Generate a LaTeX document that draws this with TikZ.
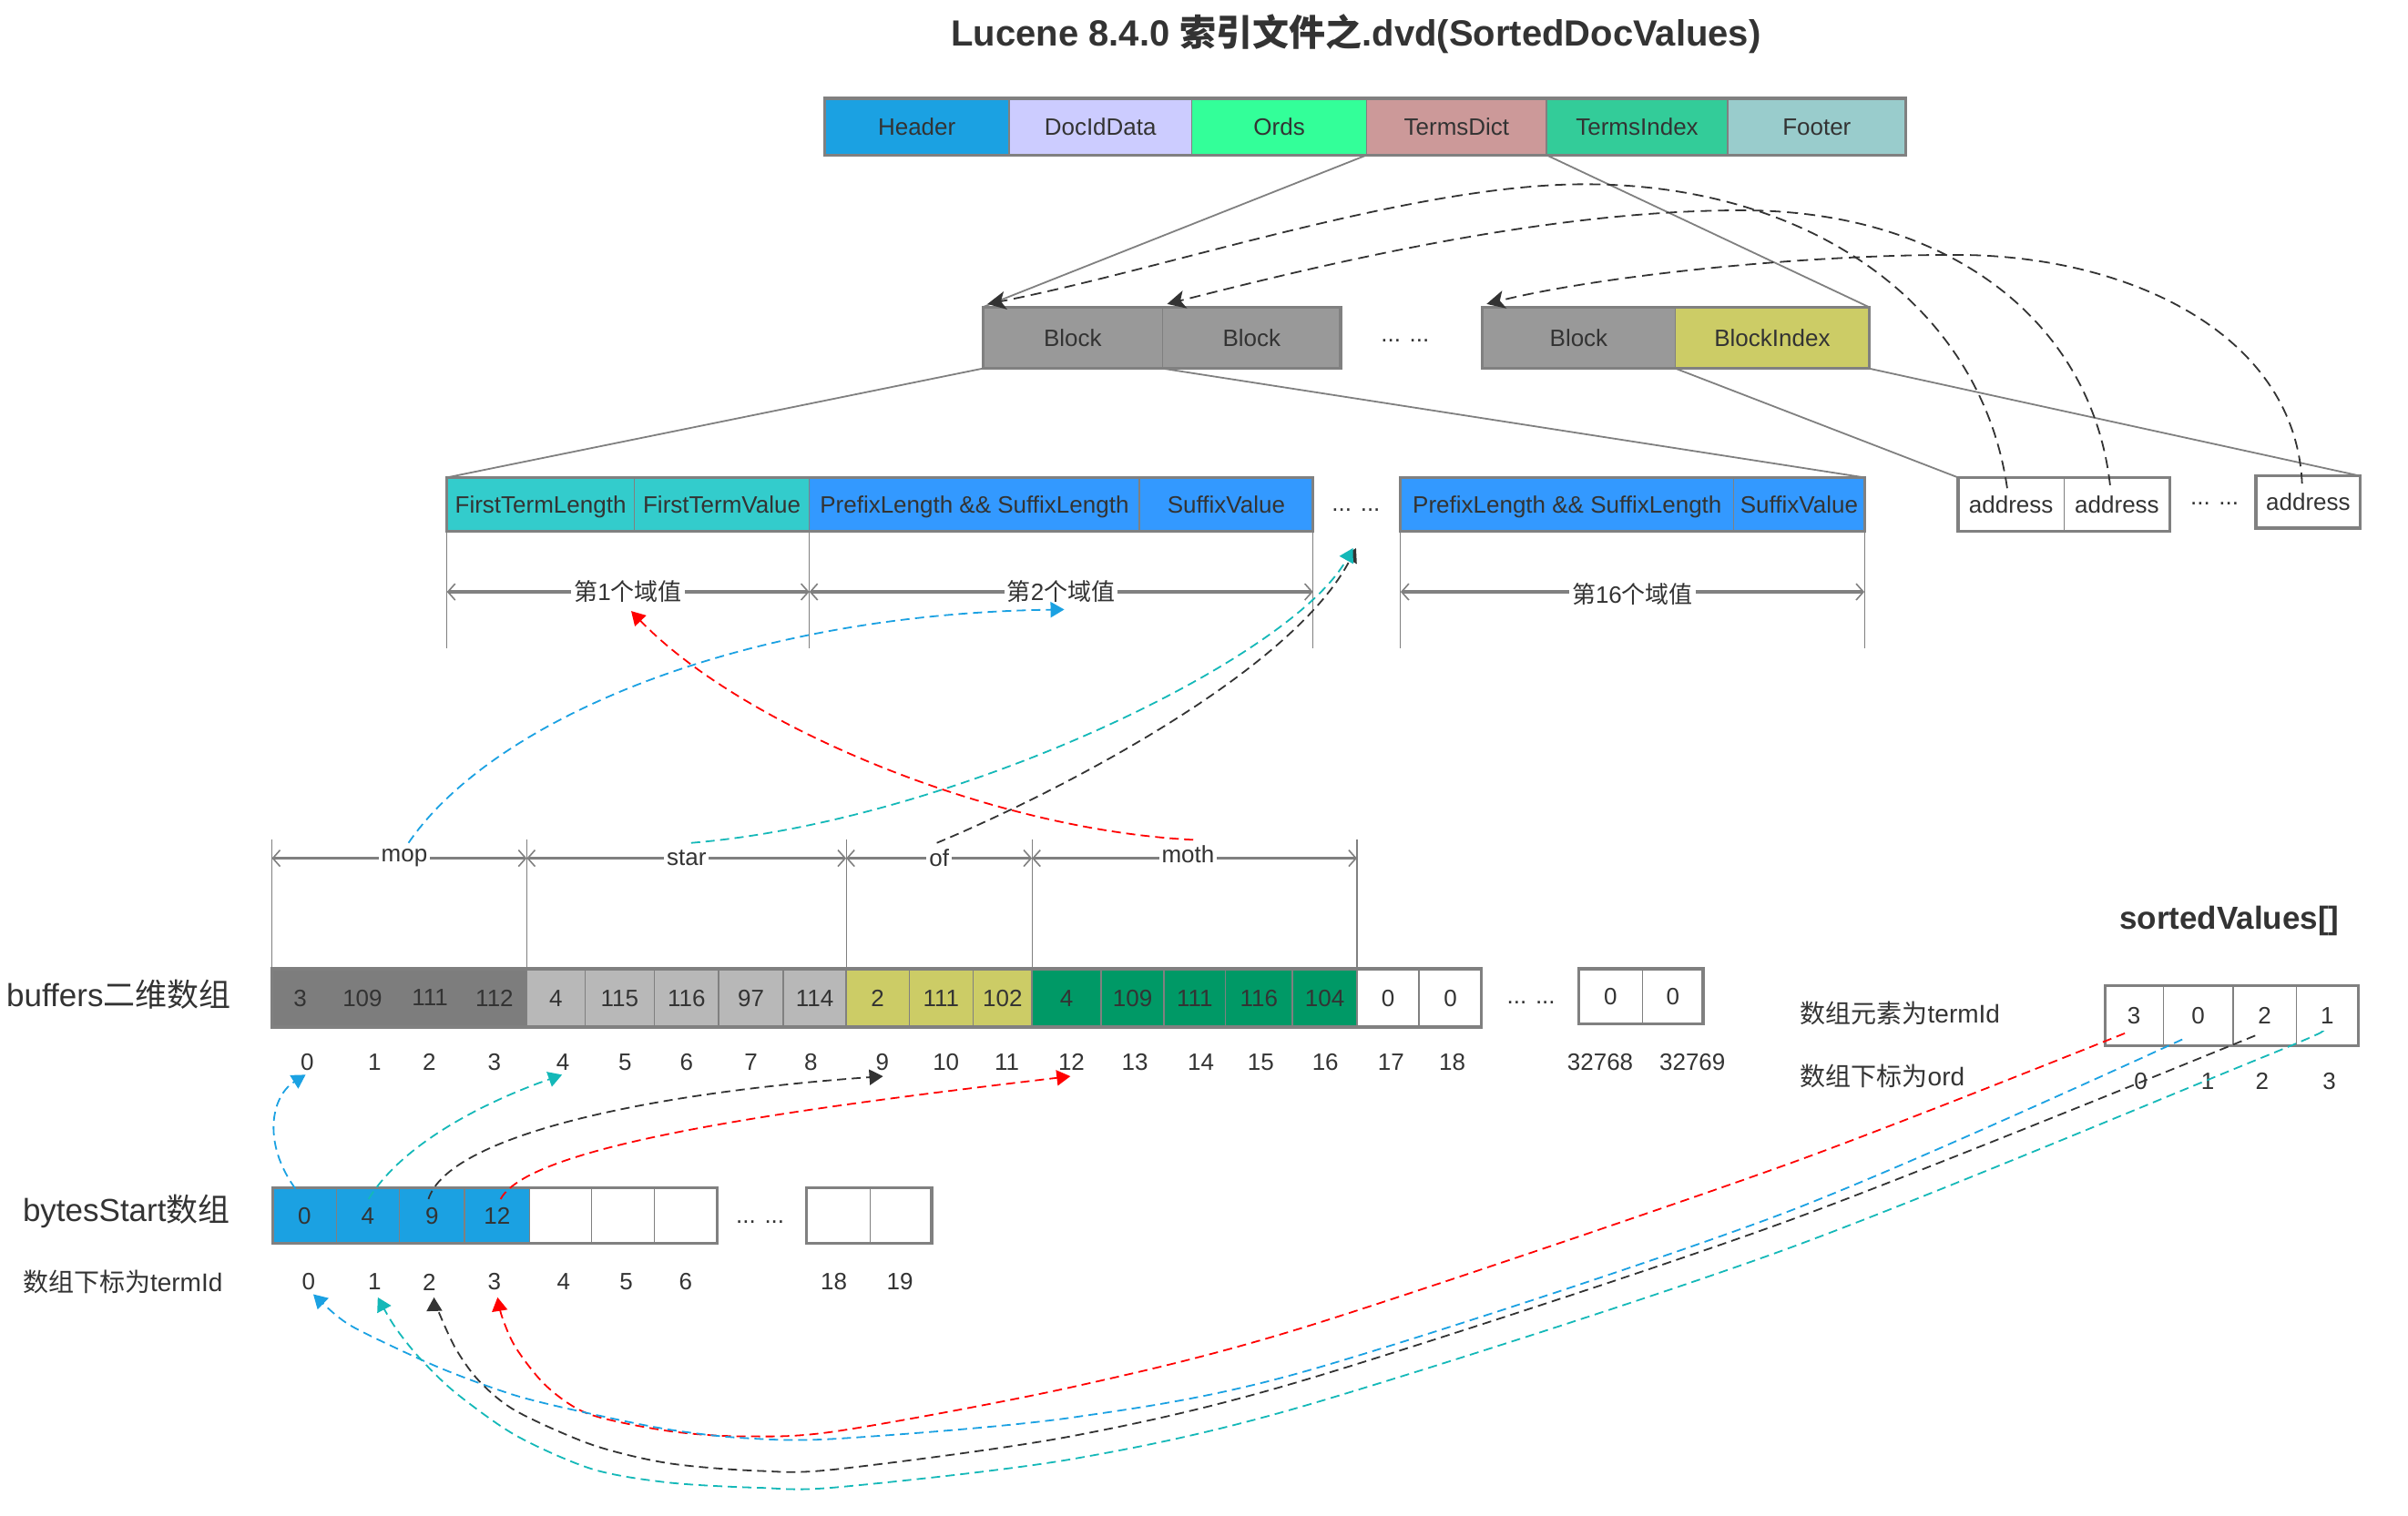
\documentclass[tikz,border=0pt]{standalone}
\usepackage{fontspec}
\setmainfont{Liberation Sans}
\newfontfamily\cjk{Noto Sans CJK SC}
\usetikzlibrary{arrows.meta}
\newcommand\zh[1]{{\cjk #1}}
\newcommand\fsn{\fontsize{13}{15}\selectfont}
\newcommand\fsm{\fontsize{14}{16}\selectfont}
\newcommand\fsb{\fontsize{17.5}{20}\selectfont}
\newcommand\fst{\fontsize{20}{23}\selectfont}
\definecolor{txt}{HTML}{333333}
\definecolor{bord}{HTML}{808080}
\definecolor{cHeader}{HTML}{1BA1E2}
\definecolor{cDocId}{HTML}{CCCCFF}
\definecolor{cOrds}{HTML}{33FF99}
\definecolor{cTDict}{HTML}{CC9999}
\definecolor{cTIdx}{HTML}{33CC99}
\definecolor{cFooter}{HTML}{99CCCC}
\definecolor{cBlock}{HTML}{999999}
\definecolor{cBlkIdx}{HTML}{CCCC66}
\definecolor{cFirst}{HTML}{33CCCC}
\definecolor{cPrefix}{HTML}{3399FF}
\definecolor{cMop}{HTML}{7D7D7D}
\definecolor{cStar}{HTML}{B8B8B8}
\definecolor{cOf}{HTML}{CCCC66}
\definecolor{cMoth}{HTML}{009966}
\definecolor{lBlue}{HTML}{1BA1E2}
\definecolor{lCyan}{HTML}{14B8B8}
\definecolor{lRed}{HTML}{FF0000}
\definecolor{lDark}{HTML}{333333}
\newcommand\cellbox[7]{%
  \node[cellsty, fill=#6, minimum width={(#3-#2)*0.8431pt}, minimum height={(#5-#4)*0.8431pt}] (#1) at ({(#2+#3)/2},{(#4+#5)/2}) {#7};}
\begin{document}
\begin{tikzpicture}[x=0.8431pt,y=-0.8431pt,
  cellsty/.style={draw=bord, line width=0.7pt, inner sep=0pt, outer sep=0pt, text=txt, font=\fsn, text height=9.3pt, text depth=0pt},
  frame/.style={draw=bord, line width=1.6pt},
  lbl/.style={text=txt, font=\fsn, inner sep=1pt},
  conn/.style={draw=bord, line width=0.9pt},
  ticksty/.style={draw=bord, line width=0.6pt},
  dimsty/.style={draw=bord, line width=1.6pt, {Straight Barb[length=4pt,width=9pt,line width=0.8pt]}-{Straight Barb[length=4pt,width=9pt,line width=0.8pt]}},
  dimlbl/.style={fill=white, text=txt, font=\fsn, inner sep=1.5pt},
  darc/.style={draw=lDark, line width=0.9pt, dash pattern=on 6pt off 3.5pt, -{Stealth[length=10pt,width=10pt,inset=2.5pt]}},
  cdash/.style={line width=0.9pt, dash pattern=on 5pt off 3pt, -{Triangle[length=7.5pt,width=8.5pt]}}]
\useasboundingbox (0,0) rectangle (1568,987);

% title
\node[text=txt, font=\fst\bfseries] (title) at (883,22) {Lucene 8.4.0 \zh{索引文件之}.dvd(SortedDocValues)};

% top bar
\cellbox{hdr}{537}{657}{64}{101}{cHeader}{Header}
\cellbox{did}{657}{776}{64}{101}{cDocId}{DocIdData}
\cellbox{ords}{776}{890}{64}{101}{cOrds}{Ords}
\cellbox{tdict}{890}{1007}{64}{101}{cTDict}{TermsDict}
\cellbox{tidx}{1007}{1125}{64}{101}{cTIdx}{TermsIndex}
\cellbox{ftr}{1125}{1241}{64}{101}{cFooter}{Footer}
\draw[frame] (hdr.north west) rectangle (ftr.south east);

% blocks
\cellbox{blkA}{640}{757}{200}{240}{cBlock}{Block}
\cellbox{blkB}{757}{873}{200}{240}{cBlock}{Block}
\node[lbl] (bdots) at (915,222) {... ...};
\cellbox{blkC}{965}{1091}{200}{240}{cBlock}{Block}
\cellbox{blkI}{1091}{1217}{200}{240}{cBlkIdx}{BlockIndex}
\draw[frame] (blkA.north west) rectangle (blkB.south east);
\draw[frame] (blkC.north west) rectangle (blkI.south east);

% fields
\cellbox{ftl}{291}{413}{311}{346}{cFirst}{FirstTermLength}
\cellbox{ftv}{413}{527}{311}{346}{cFirst}{FirstTermValue}
\cellbox{psA}{527}{742}{311}{346}{cPrefix}{PrefixLength \&\& SuffixLength}
\cellbox{svA}{742}{855}{311}{346}{cPrefix}{SuffixValue}
\node[lbl] (fdots) at (883,332) {... ...};
\cellbox{psP}{912}{1129}{311}{346}{cPrefix}{PrefixLength \&\& SuffixLength}
\cellbox{svP}{1129}{1214}{311}{346}{cPrefix}{SuffixValue}
\draw[frame] (ftl.north west) rectangle (svA.south east);
\draw[frame] (psP.north west) rectangle (svP.south east);

% addresses
\cellbox{adA}{1275}{1344}{311}{346}{white}{address}
\cellbox{adB}{1344}{1413}{311}{346}{white}{address}
\node[lbl] (adots) at (1442,328) {... ...};
\cellbox{adC}{1469}{1537}{310}{344}{white}{address}
\draw[frame] (adA.north west) rectangle (adB.south east);
\draw[frame] (adC.north west) rectangle (adC.south east);

% gray connectors
\draw[conn] (tdict.south west) -- (blkA.north west);
\draw[conn] (tdict.south east) -- (blkI.north east);
\draw[conn] (blkA.south west) -- (ftl.north west);
\draw[conn] (blkB.south west) -- (svP.north east);
\draw[conn] (blkI.south west) -- (adA.north west);
\draw[conn] (blkI.south east) -- (adC.north east);

% dashed arcs address -> block
\coordinate (aA) at (1307,318);
\coordinate (aB) at (1374,316);
\coordinate (aC) at (1499,315);
\draw[darc] (aA) .. controls (1290,200) and (1180,120) .. (1032,120) .. controls (920,120) and (760,175) .. ([shift={(3,-2)}]blkA.north west);
\draw[darc] (aB) .. controls (1362,210) and (1270,137) .. (1134,137) .. controls (1010,137) and (870,170) .. ([shift={(3,-2)}]blkB.north west);
\draw[darc] (aC) .. controls (1495,220) and (1390,166) .. (1273,166) .. controls (1170,166) and (1040,180) .. ([shift={(3,-2)}]blkC.north west);

% field dimensions
\foreach \x in {291,527,855,912,1214} \draw[ticksty] (\x,347) -- (\x,422);
\draw[dimsty] (291,385.5) -- node[dimlbl] (d1) {\zh{第}1\zh{个域值}} (527,385.5);
\draw[dimsty] (527,385.5) -- node[dimlbl] (d2) {\zh{第}2\zh{个域值}} (855,385.5);
\draw[dimsty] (912,385.5) -- node[dimlbl, yshift=-1.5pt] (d16) {\zh{第}16\zh{个域值}} (1214,385.5);

% term dimensions
\foreach \x in {177,343,551,672,883.6} \draw[ticksty] (\x,546.6) -- (\x,631);
\draw[dimsty] (177,559) -- node[dimlbl, pos=0.52] (tmop) {mop} (343,559);
\draw[dimsty] (343,559) -- node[dimlbl] (tstar) {star} (551,559);
\draw[dimsty] (551,559) -- node[dimlbl] (tof) {of} (672,559);
\draw[dimsty] (672,559) -- node[dimlbl, pos=0.48, yshift=2pt] (tmoth) {moth} (883.6,559);

% buffers
\node[text=txt, font=\fsb, anchor=west, inner sep=0pt] (lbuf) at (4,648) {buffers\zh{二维数组}};
\cellbox{mop}{177}{343}{631}{669}{cMop}{}
\foreach \n/\x/\v in {0/195.5/3,1/236/109,2/280/111,3/322/112}
  \node[lbl] (bv\n) at (\x,650) {\v};
\foreach \n/\a/\b/\v in {4/343/381/4,5/381/426/115,6/426/468/116,7/468/510/97,8/510/551/114}
  {\cellbox{bc\n}{\a}{\b}{631}{669}{cStar}{\v}}
\foreach \n/\a/\b/\v in {9/551/592/2,10/592/633.6/111,11/633.6/672/102}
  {\cellbox{bc\n}{\a}{\b}{631}{669}{cOf}{\v}}
\foreach \n/\a/\b/\v in {12/672/717/4,13/717/758/109,14/758/798/111,15/798/841.6/116,16/841.6/883.6/104}
  {\cellbox{bc\n}{\a}{\b}{631}{669}{cMoth}{\v}}
\cellbox{bc17}{883.6}{924}{631}{669}{white}{0}
\cellbox{bc18}{924}{964.8}{631}{669}{white}{0}
\draw[frame] (mop.north west) rectangle (bc18.south east);
\node[lbl] (bdots2) at (997,653) {... ...};
\cellbox{bx1}{1028}{1069.5}{631}{667}{white}{0}
\cellbox{bx2}{1069.5}{1109}{631}{667}{white}{0}
\draw[frame] (bx1.north west) rectangle (bx2.south east);
\foreach \n/\x in {0/200,1/244,2/279.5,3/322,4/366.6,5/407,6/447,7/489,8/528,9/574.6,10/616,11/655.7,12/697.7,13/739,14/782,15/821,16/863,17/905.8,18/945.6,32768/1042,32769/1102}
  \node[lbl] (ix\n) at (\x,692) {\n};

% bytesStart
\node[text=txt, font=\fsb, anchor=west, inner sep=0pt] (lbs) at (14.6,789) {bytesStart\zh{数组}};
\node[text=txt, font=\fsm, anchor=west, inner sep=0pt] (lbsi) at (14.6,835) {\zh{数组下标为}termId};
\foreach \n/\a/\b/\v in {0/177.7/219/0,1/219/260/4,2/260/302.5/9,3/302.5/345/12}
  {\cellbox{s\n}{\a}{\b}{773.6}{809.6}{cHeader}{\v}}
\foreach \n/\a/\b in {4/345/385,5/385/426,6/426/466.9}
  {\cellbox{s\n}{\a}{\b}{773.6}{809.6}{white}{}}
\draw[frame] (s0.north west) rectangle (s6.south east);
\node[lbl] (sdots) at (495,796) {... ...};
\cellbox{s18}{525}{566.7}{773.6}{809.6}{white}{}
\cellbox{s19}{566.7}{606.7}{773.6}{809.6}{white}{}
\draw[frame] (s18.north west) rectangle (s19.south east);
\foreach \n/\x in {0/201,1/244,2/279.6,3/322,4/367,5/407.8,6/446.5,18/543,19/586}
  \node[lbl] (si\n) at (\x,835) {\n};

% sortedValues
\node[text=txt, font=\fsb\bfseries, inner sep=0pt] (lsv) at (1451.7,600) {sortedValues[]};
\node[text=txt, font=\fsm, anchor=west, inner sep=0pt] (lsve) at (1172,660) {\zh{数组元素为}termId};
\node[text=txt, font=\fsm, anchor=west, inner sep=0pt] (lsvi) at (1172,701) {\zh{数组下标为}ord};
\cellbox{o0}{1370.6}{1408.6}{642}{681}{white}{3}
\cellbox{o1}{1408.6}{1454}{642}{681}{white}{0}
\cellbox{o2}{1454}{1495.2}{642}{681}{white}{2}
\cellbox{o3}{1495.2}{1535.5}{642}{681}{white}{1}
\draw[frame] (o0.north west) rectangle (o3.south east);
\foreach \n/\x in {0/1394,1/1437.5,2/1473,3/1516.7}
  \node[lbl] (oi\n) at (\x,704) {\n};

% colored curves: terms -> field values
\draw[cdash, draw=lBlue] (266,549) .. controls (320,470) and (480,400) .. (693,397);
\draw[cdash, draw=lDark] (610,549) .. controls (680,520) and (840,440) .. (883,357);
\draw[cdash, draw=lCyan] (450,549) .. controls (620,535) and (840,430) .. (881,357);
\draw[cdash, draw=lRed] (777,547) .. controls (640,540) and (480,470) .. (411,398);

% bytesStart -> buffers index
\draw[cdash, draw=lBlue] (s0.center) ++(0,-10) .. controls (170,750) and (175,715) .. (199,700);
\draw[cdash, draw=lCyan] (240,781) .. controls (262,745) and (315,718) .. (366,700);
\draw[cdash, draw=lDark] (279,781) .. controls (292,740) and (420,712) .. (575,701);
\draw[cdash, draw=lRed] (326,781) .. controls (345,745) and (520,722) .. (697,701);

% sortedValues -> bytesStart index
\draw[cdash, draw=lRed] plot[smooth, tension=0.5] coordinates {(1383.6,673) (1162,759) (854,863) (700,903) (546,932) (484,935.5) (435,932) (383.5,921) (356,903) (336,878) (327,858) (324,845)};
\draw[cdash, draw=lBlue] plot[smooth, tension=0.5] coordinates {(1421,677) (1162,790) (854,892) (700,923) (546,937) (484,936.6) (435,931) (385.5,921) (336,909) (286.6,891) (237,868) (220.5,858) (204,843)};
\draw[cdash, draw=lDark] plot[smooth, tension=0.5] coordinates {(1468.5,674.5) (1162,796) (854,897.5) (700,935) (546,956.8) (494,958) (435,953) (385.5,941) (336,919) (312,899.5) (296.5,878) (284.6,852) (282.6,845)};
\draw[cdash, draw=lCyan] plot[smooth, tension=0.5] coordinates {(1511.5,672) (1470.8,689.7) (1162,814) (854,914.3) (700,950) (546,968.6) (494,969) (435,965.6) (385.5,956.8) (336,935) (296.5,907) (272.8,884) (257,864) (246,845)};
\end{tikzpicture}
\end{document}
